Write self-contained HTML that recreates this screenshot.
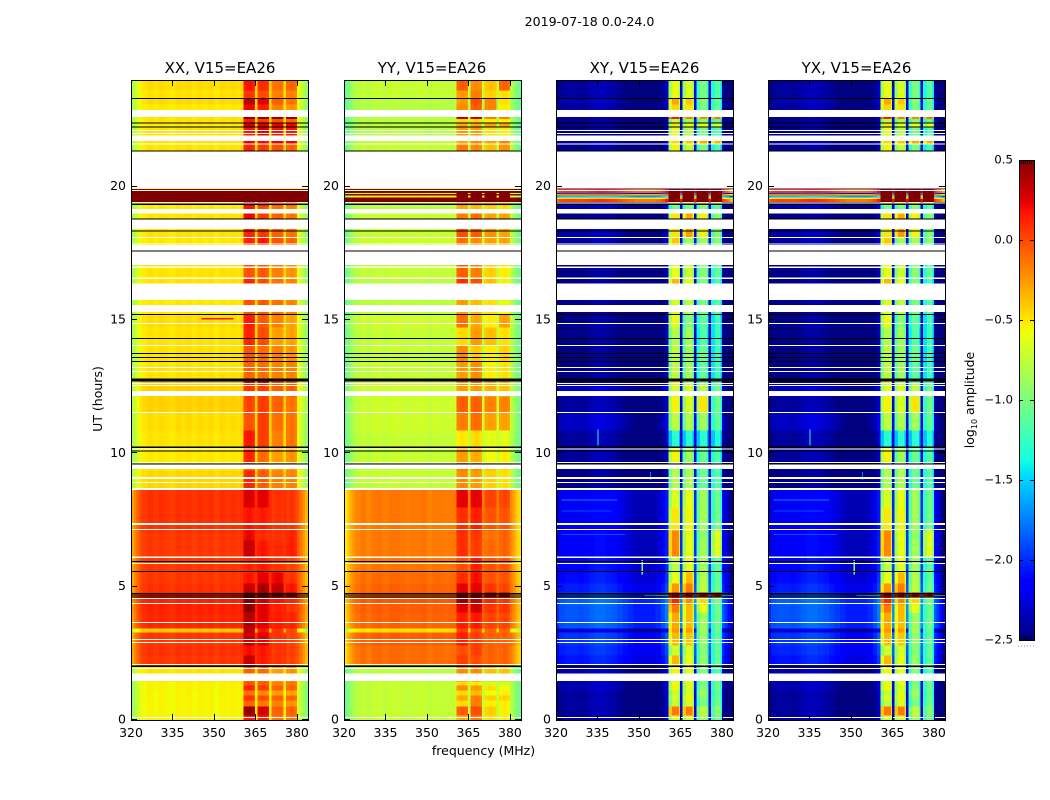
<!DOCTYPE html>
<html lang="en">
<head>
<meta charset="utf-8">
<title>2019-07-18 0.0-24.0</title>
<style>
html,body{margin:0;padding:0;background:#fff;}
svg{display:block;}
text{font-family:"DejaVu Sans","Liberation Sans",sans-serif;fill:#000;}
</style>
</head>
<body>
<svg id="figure" xmlns="http://www.w3.org/2000/svg" width="1050" height="800" viewBox="0 0 1050 800">
  <rect x="0" y="0" width="1050" height="800" fill="#fff"/>
  <text x="589.5" y="26" font-size="12.6" text-anchor="middle">2019-07-18 0.0-24.0</text>
  <text x="220" y="73" font-size="15" text-anchor="middle">XX, V15=EA26</text>
  <text x="432" y="73" font-size="15" text-anchor="middle">YY, V15=EA26</text>
  <text x="644.5" y="73" font-size="15" text-anchor="middle">XY, V15=EA26</text>
  <text x="856.5" y="73" font-size="15" text-anchor="middle">YX, V15=EA26</text>
  <text x="483.5" y="755" font-size="12.5" text-anchor="middle">frequency (MHz)</text>
  <text transform="translate(102,399) rotate(-90)" font-size="12.5" text-anchor="middle">UT (hours)</text>
  <text transform="translate(974,400) rotate(-90)" font-size="12.5" text-anchor="middle">log<tspan font-size="8" dy="3">10</tspan><tspan dy="-3"> amplitude</tspan></text>
  <g id="panels"></g>
  <g id="colorbar"></g>
</svg>
<script>
// Frequency channels (MHz) and the spectral window each channel belongs to (-1 = none)
const channelEdges = [320,321,322,323,324,326,328,330,332,334,336,338,340,342,344,346,348,350,352,354,356,358,359.5,360.7,362,363.5,364.4,364.9,365.7,367,368.5,369.4,369.9,370.8,372,373.5,374.6,375.1,376,377.5,379,379.5,380,381,382,383,384];
const channelWindow = [-1,-1,-1,-1,-1,-1,-1,-1,-1,-1,-1,-1,-1,-1,-1,-1,-1,-1,-1,-1,-1,-1,-1,0,0,0,0,-1,1,1,1,1,-1,2,2,2,2,-1,3,3,3,3,-1,-1,-1,-1];

// Channel shape (log10 amplitude offset) per polarisation
const xxOffset = [-.35,-.25,-.15,-.06,-.02,.02,-.01,.02,0,-.02,.02,0,.02,-.01,.02,0,.02,-.02,.02,0,.02,0,.02,.05,.08,.05,0,.03,.03,.06,.03,0,.04,0,.03,.03,0,.02,0,.03,0,-.03,-.1,-.2,-.3,-.42];
const yyOffset = [-.35,-.25,-.15,-.08,-.03,.02,-.02,.02,.03,0,.03,.03,.02,0,.02,.02,.03,-.01,.02,.02,0,.02,.02,.02,.05,.03,0,0,.02,.05,.03,0,.02,0,.03,.02,0,.02,0,.03,0,-.02,-.03,-.12,-.25,-.3];
const xyOffset = [-.05,.05,.05,.08,.08,.08,.06,.08,.12,.15,.15,.12,.1,.05,0,-.05,-.1,-.1,-.1,-.1,-.05,.05,.2,-.3,-.05,-.05,-.35,.25,-.3,-.05,-.05,-.35,.25,-.3,-.05,-.05,-.35,.25,-.25,-.03,-.03,-.35,.1,-.02,-.15,-.3];
const yxOffset = xyOffset;

// Time bands (UT hours, band i runs from bandEdges[i] to bandEdges[i+1])
const bandEdges = [0,.19,.525,.75,.94,1.125,1.31,1.46,2.02,2.44,2.81,3.3,3.45,4.05,4.35,4.61,4.8,5.14,5.55,6.11,6.75,7.125,7.99,8.7,9.375,9.675,10.24,10.875,11.55,12.15,12.64,12.825,13.46,14.06,14.74,15.225,16.36,16.6,17.8,18.1,18.825,19.16,19.32,19.44,19.55,19.62,19.69,19.74,19.78,19.94,21.34,21.62,21.91,22.24,22.39,22.56,22.875,23.1,23.325,23.625,24];

// Off-window (continuum) level per band, log10 amplitude
const xxFlat = [-.56,-.56,-.56,-.56,-.56,-.55,-.55,-.5,.05,.07,.05,-.42,.1,.12,.12,.14,.07,.05,.05,.05,.05,.07,.07,-.46,-.5,-.52,-.5,-.48,-.44,-.44,-.38,-.5,-.5,-.5,-.48,-.52,-.5,-.5,-.52,-.5,-.5,-.52,-.52,.9,.9,.9,.9,.9,.9,-.5,-.5,-.5,-.5,-.52,-.5,-.5,-.52,-.48,-.5,-.48];
const yyFlat = [-.75,-.75,-.75,-.75,-.75,-.75,-.75,-.78,-.13,-.13,-.08,-.5,-.1,-.08,-.06,-.08,-.1,-.13,-.16,-.17,-.17,-.17,-.17,-.75,-.75,-.75,-.75,-.72,-.72,-.72,-.72,-.75,-.75,-.75,-.72,-.78,-.78,-.75,-.72,-.74,-.74,-.78,-.75,.9,.9,-.55,.9,-.55,.9,-.75,-.75,-.75,-.8,-.8,-.8,-.8,-.8,-.8,-.75,-.75];
const xyFlat = [-2.5,-2.5,-2.5,-2.5,-2.5,-2.45,-2.45,-2.45,-2.15,-2.1,-2.05,-2.35,-1.95,-1.95,-1.92,-2,-2.12,-2.18,-2.2,-2.25,-2.25,-2.27,-2.27,-2.55,-2.5,-2.5,-2.5,-2.4,-2.5,-2.4,-2.5,-2.55,-2.55,-2.55,-2.55,-2.55,-2.55,-2.55,-2.5,-2.45,-2.55,-2.45,-2.5,-.05,-.55,-1.6,-.25,-2,0,-2.5,-2.55,-2.5,-2.55,-2.5,-2.55,-2.55,-2.5,-2.45,-2.5,-2.5];
const yxFlat = xyFlat;

// Level inside the four spectral windows per band, log10 amplitude
const xxWindows = [[.1,.1,-.15,-.15],[.38,.22,-.1,-.1],[-.15,-.2,-.2,-.25],[0,-.05,-.1,-.1],[-.2,-.25,-.3,-.3],[.05,0,-.1,-.1],[-.1,-.1,-.2,-.15],[-.15,-.15,-.3,-.25],[.25,.1,.05,0],[.12,.12,.05,.02],[.25,.2,.05,0],[.25,.12,.05,0],[.3,.2,.12,.1],[.4,.2,.1,.05],[.45,.25,.15,.1],[.45,.45,.45,.45],[.25,.35,.3,.15],[.1,.2,.2,.05],[.05,.1,.05,0],[.25,.12,.08,.12],[.15,.05,.05,.1],[.1,.1,.05,.05],[.2,.2,.05,.05],[.05,-.1,-.2,-.2],[-.15,-.2,-.3,-.25],[.05,-.15,-.3,-.25],[.1,0,-.2,-.15],[-.1,0,-.15,-.15],[-.05,0,-.1,-.15],[0,0,-.1,-.1],[.15,.2,0,-.05],[-.15,-.15,-.2,-.2],[-.1,-.15,-.2,-.25],[.05,-.05,-.3,-.3],[.08,-.1,-.2,-.3],[-.1,-.1,-.15,-.2],[.05,-.05,-.15,-.2],[-.1,-.1,-.2,-.25],[.05,.12,-.05,-.1],[.05,.02,-.1,-.15],[.15,0,-.1,-.15],[.1,-.05,-.15,-.2],[.3,.25,.05,0],[.9,.9,.9,.9],[.9,.9,.9,.9],[.9,.9,.9,.9],[.9,.9,.9,.9],[.9,.9,.9,.9],[.9,.9,.9,.9],[-.5,-.5,-.5,-.5],[.05,0,-.05,-.1],[.15,.15,.2,.2],[.1,.2,.15,.15],[.25,.22,.2,.2],[.1,0,-.05,-.1],[.4,.4,.4,.4],[.15,.1,-.2,-.25],[.28,.2,-.1,-.15],[0,-.05,-.2,-.2],[.1,.05,-.15,-.1]];
const yyWindows = [[-.35,-.2,-.5,-.55],[-.1,-.05,-.45,-.55],[-.5,-.2,-.55,-.55],[-.35,-.2,-.45,-.45],[-.5,-.4,-.6,-.55],[-.25,-.3,-.5,-.6],[-.5,-.55,-.7,-.7],[-.25,-.25,-.4,-.4],[0,-.05,-.1,-.1],[-.05,0,-.1,-.1],[.1,0,-.1,-.1],[0,-.05,-.1,-.1],[.1,.12,0,0],[.2,.25,.05,.05],[.38,.3,.1,.05],[.42,.42,.42,.42],[.2,.2,.05,0],[.05,.15,-.05,-.05],[-.05,.1,-.05,-.05],[.05,0,-.12,-.1],[.05,.02,-.15,-.1],[.05,.1,-.05,-.05],[.2,.2,0,0],[-.25,-.3,-.45,-.5],[-.2,-.25,-.4,-.45],[-.3,-.35,-.6,-.55],[-.55,-.5,-.65,-.65],[-.2,-.15,-.3,-.3],[-.1,-.1,-.2,-.2],[-.3,-.3,-.35,-.4],[-.25,-.15,-.3,-.35],[-.3,-.25,-.55,-.5],[-.25,-.45,-.55,-.45],[-.5,-.3,-.4,-.5],[-.15,-.35,-.55,-.3],[-.3,-.4,-.5,-.6],[.05,-.05,-.4,-.55],[-.1,-.2,-.45,-.55],[-.15,-.25,-.3,-.3],[-.05,-.1,-.25,-.3],[-.2,-.15,-.3,-.3],[-.35,-.4,-.45,-.5],[-.2,-.3,-.3,-.4],[.9,.9,.9,.9],[.9,.9,.9,.9],[.9,.9,.9,.9],[.9,.9,.9,.9],[.9,.9,.9,.9],[.9,.9,.9,.9],[-.75,-.75,-.75,-.75],[-.2,-.25,-.4,-.25],[-.35,-.25,-.3,-.2],[-.3,-.3,-.5,-.55],[-.35,-.35,-.3,-.3],[-.5,-.5,-.55,-.55],[.3,.25,-.2,-.2],[-.25,-.1,-.2,-.55],[-.3,-.05,-.2,-.5],[-.3,-.2,-.45,-.5],[-.1,-.25,-.4,-.1]];
const xyWindows = [[-.6,-.6,-.8,-1],[-.1,-.1,-.7,-.9],[-.7,-.6,-.95,-1],[-.6,-.5,-.9,-1],[-.7,-.6,-.8,-1.05],[-.5,-.6,-.9,-1],[-.55,-.55,-.95,-1],[-.5,-.55,-.9,-1.1],[-.3,-.55,-.85,-1.05],[-.65,-.6,-.9,-1.05],[-.3,-.35,-.85,-1.05],[-.2,-.2,-.8,-1.05],[-.25,-.3,-.8,-1],[-.1,-.3,-.55,-1],[.15,-.15,-.4,-.95],[.45,.45,.45,.45],[-.2,-.1,-.7,-1],[-.55,-.3,-.75,-1.05],[-.7,-.55,-.8,-1.05],[-.15,-.55,-.8,-.6],[-.15,-.55,-.85,-.6],[-.45,-.5,-.8,-1],[-.6,-.55,-.8,-1],[-.75,-.75,-1,-1.1],[-.8,-.8,-1,-1.1],[-.5,-.8,-1,-1.1],[-1.25,-1.25,-1.25,-1.3],[-.7,-.75,-.8,-1.05],[-.5,-.6,-.45,-1],[-.6,-.6,-.7,-1],[-.5,-.7,-.95,-1.1],[-.7,-.8,-1.05,-1.2],[-.7,-.8,-1,-1.2],[-.75,-.8,-1.1,-1.2],[-.55,-.9,-1.05,-1.2],[-.6,-.7,-.95,-1.1],[-.3,-.55,-.9,-1.15],[-.55,-.65,-.9,-1.05],[-.35,-.8,-.8,-.9],[-.45,-.2,-.5,-.9],[-.45,-.25,-.5,-.9],[-1,-.95,-.9,-1.1],[-.6,-.6,-.6,-.7],[.9,.9,.9,.9],[.9,.9,.9,.9],[.9,.9,.9,.9],[.9,.9,.9,.9],[.9,.9,.9,.9],[.9,.9,.9,.9],[-2.5,-2.5,-2.5,-2.5],[-.5,-.65,-.95,-1.15],[-.4,-.35,-.25,-.3],[-.55,-.7,-.95,-1.1],[-.45,-.55,-.5,-.55],[-.7,-.8,-.95,-1.1],[.2,-.1,-.15,-.1],[-.4,-.45,-.95,-1.05],[-.25,-.35,-.9,-1.05],[-.55,-.6,-.95,-1.1],[-.55,-.6,-.95,-1.1]];
const yxWindows = xyWindows;

// Flagged time ranges drawn white (UT hours: start, end)
const flaggedSpans = [[.075,.11],[1.46,1.75],[1.91,1.95],[2.06,2.1],[2.89,2.92],[3,3.04],[3.64,3.68],[4.35,4.39],[4.54,4.58],[5.85,5.89],[6.08,6.13],[7.13,7.16],[7.31,7.39],[8.63,8.7],[8.89,8.92],[9.04,9.11],[9.41,9.58],[9.64,9.68],[10.14,10.18],[11.51,11.55],[12.15,12.34],[12.54,12.57],[12.6,12.64],[13.05,13.09],[13.2,13.24],[14.03,14.06],[14.85,14.89],[15.3,15.56],[15.75,16.36],[16.54,16.59],[16.95,17],[17.06,17.81],[17.84,17.87],[18.09,18.12],[18.41,18.77],[19,19.16],[19.37,19.41],[19.84,19.875],[19.94,21.34],[21.59,21.62],[21.71,21.91],[21.99,22.02],[22.1,22.13],[22.61,22.875]];

// Time ranges drawn black (UT hours: start, end)
const blackSpans = [[1.98,2.05],[4.61,4.64],[4.68,4.71],[4.74,4.77],[5.55,5.59],[5.93,5.97],[9.58,9.62],[10.07,10.11],[10.2,10.26],[12.7,12.81],[13.43,13.47],[13.58,13.62],[13.73,13.77],[14.29,14.33],[15.19,15.23],[17.56,17.6],[18.31,18.35],[18.76,18.8],[19.32,19.36],[21.32,21.36],[22.21,22.25],[22.36,22.4],[23.29,23.33]];

// Isolated narrow features: panel, f0, f1 (MHz), h0, h1 (hours), log10 amplitude
const streaks = [
  ['xy',335,335.4,10.3,10.9,-1.3],['yx',335,335.4,10.3,10.9,-1.3],
  ['xy',351,351.4,5.45,6,-1],['yx',351,351.4,5.45,6,-1],
  ['xy',354,354.4,9.0,9.3,-1.75],['yx',354,354.4,9.0,9.3,-1.75],
  ['xx',345.5,357,15.02,15.08,.15],
  ['xy',322,345,6.93,6.97,-1.9],['yx',322,345,6.93,6.97,-1.9],
  ['xy',322,340,7.82,7.86,-1.9],['yx',322,340,7.82,7.86,-1.9],
  ['xy',322,342,8.23,8.27,-1.75],['yx',322,342,8.23,8.27,-1.75],
  ['xy',352,356,4.65,4.71,-1.4],['yx',352,356,4.65,4.71,-1.4],
  ['xy',356,360.7,4.65,4.71,-.9],['yx',356,360.7,4.65,4.71,-.9],
  ['xy',380,384,4.65,4.71,-1],['yx',380,384,4.65,4.71,-1]
];

// Axis tick labels
const freqTicks = [320,335,350,365,380];
const hourTicks = [0,5,10,15,20];
const colorTicks = [-2.5,-2,-1.5,-1,-.5,0,.5];
const colorTickLabels = ['\u22122.5','\u22122.0','\u22121.5','\u22121.0','\u22120.5','0.0','0.5'];

const panelLefts = {xx:131,yy:344,xy:556,yx:768};
const plotWidth = 177, plotTop = 80, plotBottom = 720;
const NS = 'http://www.w3.org/2000/svg';

function xScale(panelKey, f){ return panelLefts[panelKey] + (f-320)/(384-320)*plotWidth; }
function yScale(h){ return plotBottom - h/24*(plotBottom-plotTop); }
function lerpStops(v, stops){
  for(let i=0;i<stops.length-1;i++){
    const a = stops[i], b = stops[i+1];
    if(v<=b[0]){ return a[1]+(b[1]-a[1])*(v-a[0])/(b[0]-a[0]); }
  }
  return stops[stops.length-1][1];
}
const jetRed = [[0,0],[.35,0],[.66,1],[.89,1],[1,.5]];
const jetGreen = [[0,0],[.125,0],[.375,1],[.64,1],[.91,0],[1,0]];
const jetBlue = [[0,.5],[.11,1],[.34,1],[.65,0],[1,0]];
function jet(value){
  const v = Math.max(0,Math.min(1,(value+2.5)/3));
  return 'rgb('+Math.round(255*lerpStops(v,jetRed))+','+Math.round(255*lerpStops(v,jetGreen))+','+Math.round(255*lerpStops(v,jetBlue))+')';
}
function make(tag, attrs, parent){
  const el = document.createElementNS(NS,tag);
  for(const k in attrs){ el.setAttribute(k,attrs[k]); }
  parent.appendChild(el);
  return el;
}

const panelData = [
  {key:'xx',flat:xxFlat,windows:xxWindows,offset:xxOffset},
  {key:'yy',flat:yyFlat,windows:yyWindows,offset:yyOffset},
  {key:'xy',flat:xyFlat,windows:xyWindows,offset:xyOffset},
  {key:'yx',flat:yxFlat,windows:yxWindows,offset:yxOffset}
];
const panelsGroup = document.getElementById('panels');

panelData.forEach(function(p){
  const g = make('g',{'shape-rendering':'crispEdges'},panelsGroup);
  
  
  const cells = make('g',{},g);
  
  

  for(let b=0;b<bandEdges.length-1;b++){
    const yTop = yScale(bandEdges[b+1]), yBot = yScale(bandEdges[b]);
    for(let c=0;c<channelEdges.length-1;c++){
      const x0 = xScale(p.key,channelEdges[c]), x1 = xScale(p.key,channelEdges[c+1]);
      const w = channelWindow[c];
      const level = (w>=0 ? p.windows[b][w] : p.flat[b]) + p.offset[c];
      const cell = make('rect',{x:x0,y:yTop,width:x1-x0+.5,height:yBot-yTop+.5,fill:jet(level)},cells);
      
      
    }
  }

  streaks.filter(function(s){return s[0]===p.key;}).forEach(function(s){
    const r = make('rect',{x:xScale(p.key,s[1]),y:yScale(s[4]),width:Math.max(1,xScale(p.key,s[2])-xScale(p.key,s[1])),height:Math.max(1,yScale(s[3])-yScale(s[4])),fill:jet(s[5])},g);
    
    
  });

  flaggedSpans.forEach(function(s){
    const r = make('rect',{x:panelLefts[p.key],y:yScale(s[1]),width:plotWidth,height:Math.max(1,yScale(s[0])-yScale(s[1])),fill:'#fff'},g);
    
    
  });
  blackSpans.forEach(function(s){
    const r = make('rect',{x:panelLefts[p.key],y:yScale(s[1]),width:plotWidth,height:Math.max(1,yScale(s[0])-yScale(s[1])),fill:'#000'},g);
    
    
  });

  freqTicks.forEach(function(f){
    const x = Math.round(xScale(p.key,f))+.5;
    const t1 = make('line',{x1:x,x2:x,y1:plotBottom,y2:plotBottom-6,stroke:'#000','stroke-width':1},g);
    
    
    const t2 = make('line',{x1:x,x2:x,y1:plotTop,y2:plotTop+6,stroke:'#000','stroke-width':1},g);
    
    
    const label = make('text',{x:xScale(p.key,f),y:737,'font-size':12.5,'text-anchor':'middle'},panelsGroup);
    label.textContent = String(f);
    
    
  });
  hourTicks.forEach(function(h){
    const y = Math.round(yScale(h))-.5;
    const left = panelLefts[p.key];
    const t1 = make('line',{x1:left,x2:left+6,y1:y,y2:y,stroke:'#000','stroke-width':1},g);
    
    
    const t2 = make('line',{x1:left+plotWidth,x2:left+plotWidth-6,y1:y,y2:y,stroke:'#000','stroke-width':1},g);
    
    
    const label = make('text',{x:left-5,y:yScale(h)+3.5,'font-size':12.5,'text-anchor':'end'},panelsGroup);
    label.textContent = String(h);
    
    
  });

  const frame = make('rect',{x:panelLefts[p.key]+.5,y:plotTop+.5,width:plotWidth,height:plotBottom-plotTop,fill:'none',stroke:'#000','stroke-width':1},g);
  
  
});

// Colorbar
const cbGroup = document.getElementById('colorbar');
const cbLeft = 1019, cbRight = 1034, cbTop = 160, cbBottom = 640;
function cbScale(v){ return cbBottom - (v+2.5)/3*(cbBottom-cbTop); }
for(let i=0;i<256;i++){
  const v0 = -2.5 + i/256*3, v1 = -2.5 + (i+1)/256*3;
  const seg = make('rect',{x:cbLeft,y:cbScale(v1),width:cbRight-cbLeft,height:cbScale(v0)-cbScale(v1)+.5,fill:jet(v0),'shape-rendering':'crispEdges'},cbGroup);
  
  
}
colorTicks.forEach(function(v,i){
  const y = Math.round(cbScale(v))+.5;
  const t1 = make('line',{x1:cbLeft,x2:cbLeft+4,y1:y,y2:y,stroke:'#000','stroke-width':1,'shape-rendering':'crispEdges'},cbGroup);
  
  
  const t2 = make('line',{x1:cbRight,x2:cbRight-4,y1:y,y2:y,stroke:'#000','stroke-width':1,'shape-rendering':'crispEdges'},cbGroup);
  
  
  const label = make('text',{x:1013,y:cbScale(v)+3.5,'font-size':11.8,'text-anchor':'end'},cbGroup);
  label.textContent = colorTickLabels[i];
  
  
});
for(let i=0;i<6;i++){
  const x = cbLeft+2.5+i*2;
  const t1 = make('line',{x1:x,x2:x,y1:cbTop,y2:cbTop+4,stroke:'#000','stroke-width':.7},cbGroup);
  
  
  const t2 = make('line',{x1:x,x2:x,y1:cbBottom,y2:cbBottom-4,stroke:'#000','stroke-width':.7},cbGroup);
  
  
  const d = make('rect',{x:cbLeft-1+i*3,y:645.5,width:1,height:1,fill:'#999'},cbGroup);
  
  
}
const cbFrame = make('rect',{x:cbLeft+.5,y:cbTop+.5,width:cbRight-cbLeft,height:cbBottom-cbTop,fill:'none',stroke:'#000','stroke-width':1,'shape-rendering':'crispEdges'},cbGroup);


</script>
</body>
</html>
